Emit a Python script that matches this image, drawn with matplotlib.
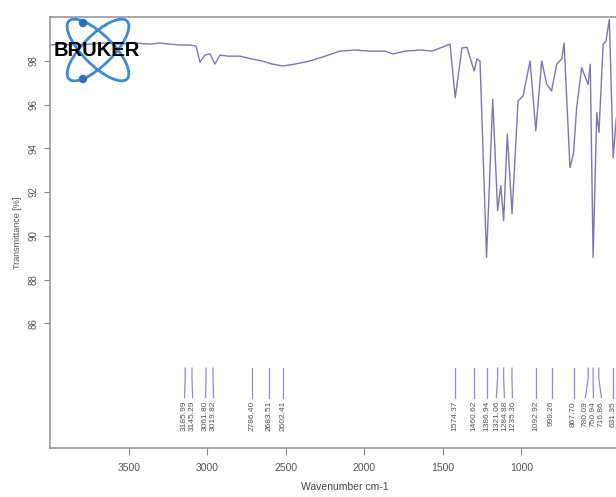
import matplotlib
matplotlib.use("Agg")
import matplotlib.pyplot as plt
from matplotlib.patches import Ellipse, Circle
from matplotlib.transforms import IdentityTransform

# spectrum (wavenumber cm-1, transmittance %)
wavenumber = [3993, 3933, 3844, 3754, 3665, 3575, 3486, 3396, 3336, 3277,
              3217, 3157, 3121, 3098, 3068, 3038, 3008, 2978, 2930, 2859,
              2787, 2727, 2668, 2602, 2530, 2441, 2351, 2262, 2172, 2083,
              1993, 1945, 1874, 1784, 1712, 1665, 1605, 1574, 1534, 1504,
              1461, 1444, 1426, 1387, 1350, 1321, 1302, 1285, 1263, 1235,
              1199, 1169, 1127, 1093, 1058, 1028, 999, 968, 938, 924,
              889, 868, 849, 819, 781, 768, 751, 729, 716, 691,
              674, 654, 631, 614, 590]
transmittance = [98.72, 98.76, 98.72, 98.76, 98.81, 98.76, 98.81, 98.76, 98.81, 98.76,
                 98.72, 98.72, 98.67, 97.94, 98.26, 98.31, 97.85, 98.26, 98.21, 98.21,
                 98.08, 97.99, 97.85, 97.76, 97.85, 97.99, 98.21, 98.44, 98.49, 98.44,
                 98.44, 98.31, 98.44, 98.49, 98.44, 98.58, 98.76, 96.31, 98.58, 98.62,
                 97.53, 98.08, 97.99, 89.02, 96.24, 91.15, 92.29, 90.69, 94.65, 91.01,
                 96.16, 96.39, 97.99, 94.80, 97.99, 96.94, 96.62, 97.85, 98.08, 98.81,
                 93.12, 93.75, 95.86, 97.68, 96.92, 97.84, 89.02, 95.63, 94.72, 98.75,
                 98.90, 99.89, 93.58, 95.25, 96.50]

peaks = [3185.99, 3145.29, 3061.80, 3019.82, 2786.40, 2683.51, 2602.41,
         1574.37, 1460.62, 1386.94, 1321.06, 1284.88, 1235.36, 1092.92,
         999.26, 867.70, 780.09, 750.94, 716.86, 631.35]

xticks = [3500, 3000, 2500, 2000, 1500, 1000]
yticks = [86, 88, 90, 92, 94, 96, 98]

W, H = 616, 497
fig = plt.figure(figsize=(W / 100, H / 100), dpi=100)
plt.rcParams['font.family'] = ['Liberation Sans', 'DejaVu Sans']

ax = fig.add_axes([50 / W, 49 / H, 590 / W, 431 / H])
ax.plot(wavenumber, transmittance, color='#7878b4', lw=1.0)
ax.set_xlim(3993, 471)
ax.set_ylim(80.3, 100)

# peak markers: spread crowded labels apart, lines bend to them
gap = 48.0
label_x = list(peaks)
for _ in range(60):
    for i in range(1, len(label_x)):
        d = label_x[i - 1] - label_x[i]
        if d < gap:
            shift = (gap - d) / 2
            label_x[i - 1] += shift
            label_x[i] -= shift
for p, lx in zip(peaks, label_x):
    ax.plot([p, p, lx], [83.95, 83.5, 82.6], color='#8c8cd0', lw=0.9)
    ax.text(lx, 82.45, '%.2f' % p, rotation=90, ha='center', va='top',
            fontsize=6, color='#555555')

ax.set_xticks([])
ax.set_yticks(yticks)
ax.set_yticklabels([str(v) for v in yticks], rotation=90, va='center',
                   fontsize=7, color='#555555')
ax.tick_params(axis='y', direction='out', length=4, color='#888888', pad=4)
ax.set_ylabel('Transmittance [%]', fontsize=6.5, color='#555555', labelpad=5)
for side in ['left', 'top', 'bottom']:
    ax.spines[side].set_color('#9a9a9a')
    ax.spines[side].set_linewidth(1.2)
ax.spines['right'].set_visible(False)

# wavenumber axis of the scan
axt = ax.twiny()
axt.set_xlim(4003, 245)
axt.xaxis.set_ticks_position('bottom')
axt.xaxis.set_label_position('bottom')
axt.set_xticks(xticks)
axt.set_xticklabels([str(v) for v in xticks], fontsize=7.5, color='#555555')
axt.tick_params(axis='x', direction='out', length=5, color='#888888', pad=6)
axt.set_xlabel('Wavenumber cm-1', fontsize=7.5, color='#444444', labelpad=6)
for s in axt.spines.values():
    s.set_visible(False)

# Bruker logo
tr = IdentityTransform()
cx, cy = 98, H - 50
for ang in [45, -45]:
    fig.patches.append(Ellipse((cx, cy), 82, 30, angle=ang, fill=False,
                               ec='#3a8bd8', lw=2.0, transform=tr, zorder=5))
for (dx, dy) in [(83, 23), (83, 79)]:
    fig.patches.append(Circle((dx, H - dy), 3.5, color='#2f6fc0',
                              transform=tr, zorder=6))
fig.text(97 / W, 1 - 50 / H, 'BRUKER', fontsize=14.5, fontweight='bold',
         color='black', ha='center', va='center', zorder=10)

fig.savefig('out.png', dpi=100)
